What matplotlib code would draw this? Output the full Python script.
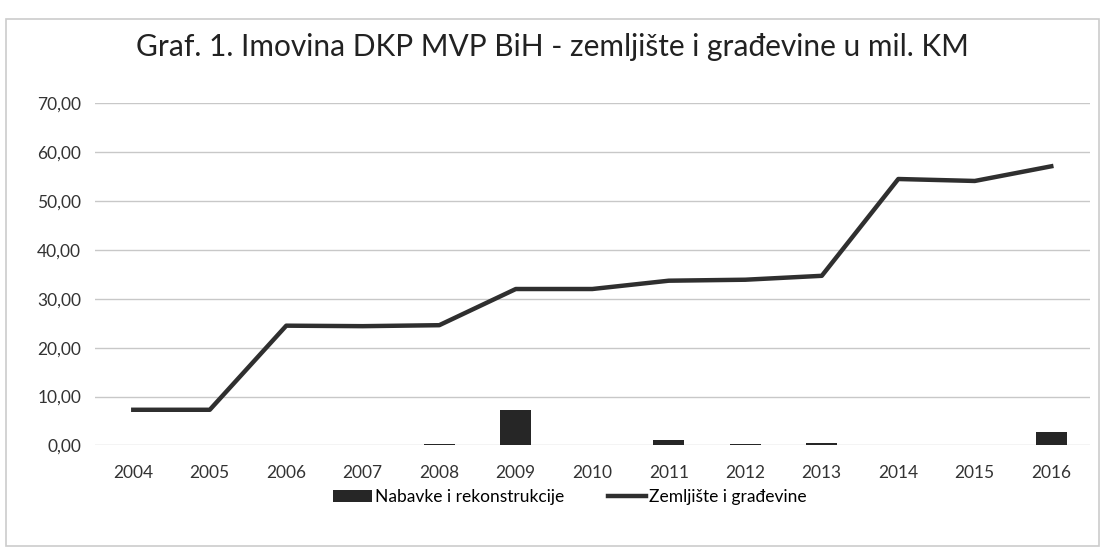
import matplotlib
matplotlib.use("Agg")
import matplotlib.pyplot as plt
import numpy as np

plt.rcParams['font.family'] = ['Lato', 'DejaVu Sans']

years = ['2004', '2005', '2006', '2007', '2008', '2009', '2010',
         '2011', '2012', '2013', '2014', '2015', '2016']
nabavke = [0.0, 0.0, 0.0, 0.0, 0.2, 7.3, 0.0, 1.1, 0.3, 0.5, 0.1, 0.1, 2.7]
zemljiste = [7.3, 7.3, 24.5, 24.4, 24.6, 32.0, 32.0, 33.7, 33.9, 34.7, 54.5, 54.1, 57.1]
y_ticks = [0, 10, 20, 30, 40, 50, 60, 70]

fig = plt.figure(figsize=(11.05, 5.52), dpi=100)
ax = fig.add_axes([0.086, 0.193, 0.9, 0.62])

x = np.arange(len(years))
bars = ax.bar(x, nabavke, width=0.4, color='#262626', label='Nabavke i rekonstrukcije', zorder=2)
line, = ax.plot(x, zemljiste, color='#2f2f2f', linewidth=3.2, label='Zemljište i građevine', zorder=3)

ax.set_ylim(0, 70)
ax.set_xlim(-0.5, len(years) - 0.5)
ax.set_yticks(y_ticks)
ax.set_yticklabels(['%d,00' % v for v in y_ticks])
ax.set_xticks(x)
ax.set_xticklabels(years)
ax.tick_params(axis='both', length=0, labelsize=12.5, colors='#333333')
ax.tick_params(axis='x', pad=14)
ax.tick_params(axis='y', pad=10)
ax.grid(axis='y', color='#c8c8c8', linewidth=1)
ax.set_axisbelow(True)
for s in ax.spines.values():
    s.set_visible(False)

fig.text(0.5, 0.915, 'Graf. 1. Imovina DKP MVP BiH - zemljište i građevine u mil. KM',
         ha='center', va='center', fontsize=21.5, color='#222222')

fig.legend([bars, line], ['Nabavke i rekonstrukcije', 'Zemljište i građevine'],
           loc='center', bbox_to_anchor=(0.516, 0.1), ncol=2, frameon=False,
           fontsize=12.5, handlelength=2.2, columnspacing=2.5, handletextpad=0.2)

# light frame around the chart
fig.patches.append(plt.Rectangle((0.005, 0.01), 0.99, 0.955, transform=fig.transFigure,
                                 fill=False, edgecolor='#cccccc', linewidth=1.2))

fig.savefig('out.png', dpi=100)
